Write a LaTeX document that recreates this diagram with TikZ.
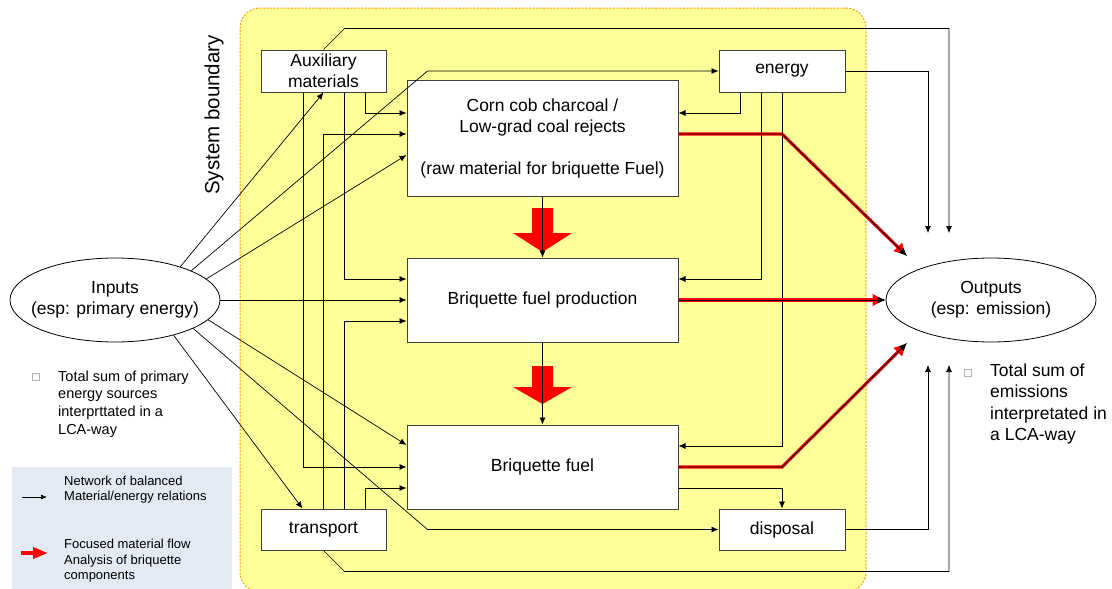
\documentclass[tikz,border=0pt]{standalone}
\usepackage{fontspec}
\setmainfont{Liberation Sans}
\usepackage{xcolor}
\definecolor{BoundaryYellow}{HTML}{FFFF99}
\definecolor{BoundaryOrange}{HTML}{FF9900}
\definecolor{LegendBlue}{HTML}{E4EAF4}
\definecolor{FlowRed}{HTML}{FF0000}
\definecolor{BoxEdge}{HTML}{404040}
\usepackage{tikz}
\usetikzlibrary{shapes.geometric, arrows.meta, positioning, calc}
\tikzset{
    % boxes of the process chain
    process/.style={
        rectangle,
        draw=BoxEdge,
        fill=white,
        line width=1pt,
        inner sep=0pt,
        align=center,
        font=\fontsize{17.5}{21}\selectfont
    },
    terminal/.style={
        ellipse,
        draw=black,
        fill=white,
        line width=0.8pt,
        minimum width=210pt,
        minimum height=84pt,
        inner sep=0pt
    },
    note/.style={
        inner sep=0pt,
        align=left,
        anchor=west
    },
    bullet box/.style={
        rectangle,
        draw=black!30,
        fill=white,
        line width=0.5pt,
        minimum size=7pt,
        inner sep=0pt
    },
    flow/.style={
        -{Latex[length=7pt,width=6pt]},
        line width=0.7pt,
        black
    },
    focus flow/.style={
        -{Latex[length=8pt,width=7pt]},
        line width=0.9pt,
        black,
        preaction={draw=FlowRed, line width=3.2pt, -{Latex[length=13pt,width=13pt]}}
    }
}

\begin{document}
\begin{tikzpicture}[x=1pt, y=-1pt]
        \useasboundingbox (0,0) rectangle (1112,589);

        % System boundary
        \node[rectangle, rounded corners=20pt, fill=BoundaryYellow, draw=BoundaryOrange, line width=1pt,
              dash pattern=on 2pt off 1.5pt, minimum width=626pt, minimum height=584pt] (boundary) at (553,300) {};
        \node[rotate=90, inner sep=0pt, font=\fontsize{20.5}{24}\selectfont] (boundarylabel) at (214,115) {System boundary};

        % Process boxes
        \node[process, minimum width=125pt, minimum height=42pt] (aux) at (323.5,71) {Auxiliary\\materials};
        \node[process, minimum width=126pt, minimum height=42pt] (energy) at (782,71) {energy};
        \node[process, minimum width=271pt, minimum height=116pt] (corn) at (542.5,138) {
            Corn cob charcoal /\\
            Low-grad coal rejects\\[21pt]
            (raw material for briquette Fuel)
        };
        \node[process, minimum width=271pt, minimum height=84pt] (prod) at (542.5,300) {Briquette fuel production};
        \node[process, minimum width=271pt, minimum height=84pt] (fuel) at (542.5,467) {Briquette fuel};
        \node[process, minimum width=125pt, minimum height=41pt] (transport) at (323.5,529.5) {transport};
        \node[process, minimum width=126pt, minimum height=41pt] (disposal) at (782,529.5) {disposal};

        % Inputs and outputs
        \node[terminal, label={[align=center, font=\fontsize{17.5}{21}\selectfont]center:Inputs\\(esp: primary energy)}] (inputs) at (115,300) {};
        \node[terminal, label={[align=center, font=\fontsize{17.5}{21}\selectfont]center:Outputs\\(esp: emission)}] (outputs) at (991,300) {};

        % Free ends next to the outputs
        \coordinate (outNW) at (928,233);
        \coordinate (outNE) at (949,233);
        \coordinate (outSW) at (928,365);
        \coordinate (outSE) at (949,365);
        \coordinate (redTop) at (907,256);
        \coordinate (redBot) at (907,343);

        % Big red arrows along the chain
        \foreach \y/\h/\t in {208/25/44, 366/21/38} {
            \fill[FlowRed] (532,\y) -- (553,\y) -- (553,\y+\h) -- (572,\y+\h) -- (542.5,\y+\t)
                -- (513,\y+\h) -- (532,\y+\h) -- cycle;
        }
        \draw[flow] (corn.south) -- (prod.north);
        \draw[flow] (prod.south) -- (fuel.north);

        % Inputs to the system
        \draw[flow] (inputs.27) -- (aux.south);
        \draw[flow] (inputs.21) -- ([xshift=-291pt]energy.west) -- (energy.west);
        \draw[flow] (inputs.13) -- ([yshift=-17pt]corn.west);
        \draw[flow] (inputs.east) -- (prod.west);
        \draw[flow] (inputs.-12) -- ([yshift=22pt]fuel.west);
        \draw[flow] (inputs.-20) -- ([xshift=-291pt]disposal.west) -- (disposal.west);
        \draw[flow] (inputs.-31) -- ([xshift=-21pt]transport.north);

        % Auxiliary materials
        \draw[flow] ([xshift=41.5pt]aux.south) |- ([yshift=25pt]corn.west);
        \draw[flow] ([xshift=20.5pt]aux.south) |- ([yshift=21pt]prod.west);
        \draw[flow] ([xshift=-20.5pt]aux.south) |- (fuel.west);
        \draw[flow] (aux.north) -- ++(21,-21) -| (outNE);

        % Transport
        \draw[flow] (transport.north) |- ([yshift=4pt]corn.west);
        \draw[flow] ([xshift=20.5pt]transport.north) |- ([yshift=-21pt]prod.west);
        \draw[flow] ([xshift=41.5pt]transport.north) |- ([yshift=-21pt]fuel.west);
        \draw[flow] (transport.south) -- ++(21,21) -| (outSE);

        % Energy
        \draw[flow] ([xshift=-42pt]energy.south) |- ([yshift=25pt]corn.east);
        \draw[flow] ([xshift=-21pt]energy.south) |- ([yshift=21pt]prod.east);
        \draw[flow] (energy.south) |- ([yshift=21pt]fuel.east);
        \draw[flow] (energy.east) -| (outNW);

        % Disposal
        \draw[flow] ([yshift=-21pt]fuel.east) -| (disposal.north);
        \draw[flow] (disposal.east) -| (outSW);

        % Focused material flow
        \draw[focus flow] ([yshift=4pt]corn.east) -- ([yshift=4pt]corn.east -| energy.south) -- (redTop);
        \draw[focus flow] (prod.east) -- (outputs.west);
        \draw[focus flow] (fuel.east) -- (fuel.east -| energy.south) -- (redBot);

        % Notes
        \node[bullet box] (noteinbox) at (36,377) {};
        \node[note, font=\fontsize{14.5}{17.7}\selectfont] (noteinputs) at (58,404) {
            Total sum of primary\\
            energy sources\\
            interprttated in a\\
            LCA-way
        };
        \node[bullet box] (noteoutbox) at (968,373) {};
        \node[note, font=\fontsize{17.5}{21.3}\selectfont] (noteoutputs) at (990,404) {
            Total sum of\\
            emissions\\
            interpretated in\\
            a LCA-way
        };

        % Legend
        \node[rectangle, fill=LegendBlue, minimum width=220pt, minimum height=124pt, anchor=north west] (legend) at (12,467) {};
        \coordinate (legBlackA) at (22,497);
        \coordinate (legBlackB) at (47,497);
        \draw[flow, -{Latex[length=6pt,width=5pt]}] (legBlackA) -- (legBlackB);
        \coordinate (legRedA) at (21,553);
        \coordinate (legRedB) at (48,553);
        \draw[FlowRed, line width=4pt, -{Triangle[length=15pt,width=11pt]}] (legRedA) -- (legRedB);
        \node[note, font=\fontsize{13}{15.6}\selectfont] (legendnetwork) at (64,489.5) {
            Network of balanced\\
            Material/energy relations
        };
        \node[note, font=\fontsize{13}{15.6}\selectfont] (legendfocus) at (64,561) {
            Focused material flow\\
            Analysis of briquette\\
            components
        };
    \end{tikzpicture}
\end{document}
